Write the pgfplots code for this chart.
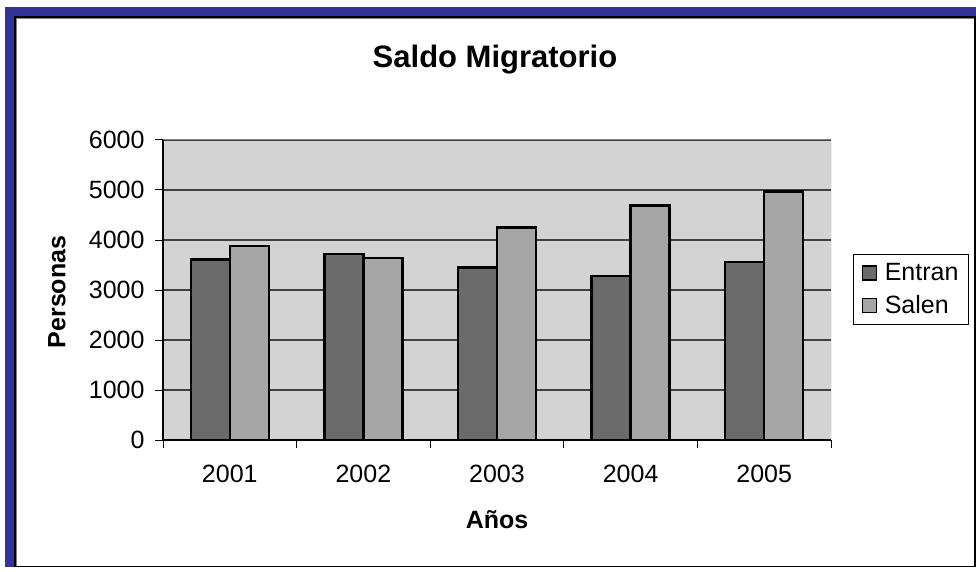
\documentclass[border=0pt]{standalone}
\usepackage{fontspec}
\setmainfont{Liberation Sans}
\usepackage{pgfplots}
\pgfplotsset{compat=1.18}
\definecolor{navyframe}{RGB}{51,51,153}
\definecolor{plotbg}{RGB}{211,211,211}
\definecolor{entran}{RGB}{107,107,107}
\definecolor{salen}{RGB}{166,166,166}
\begin{document}
\begin{tikzpicture}[x=1pt,y=1pt]
\useasboundingbox (0,0) rectangle (976,571);
\fill[navyframe] (5,4) rectangle (976,564);
\fill[white] (15,4) rectangle (975,554);
\draw[black, line width=1.5pt] (15,4.5) rectangle (975,554);
\draw[gray, line width=1pt] (16.5,5) -- (16.5,552.5) -- (974,552.5);
\begin{axis}[
  at={(163pt,131pt)}, anchor=south west,
  scale only axis, width=668pt, height=300pt,
  xmin=-0.5, xmax=4.5, ymin=0, ymax=6000,
  ybar=0pt, bar width=39pt,
  axis background/.style={fill=plotbg},
  axis x line*=bottom, axis y line*=left,
  axis line style={black, line width=1.2pt},
  ytick={0,1000,...,6000},
  ymajorgrids,
  grid style={line width=1.1pt, color=black!75},
  xtick={-0.5,0.5,...,4.5},
  x tick label as interval,
  xticklabels={2001,2002,2003,2004,2005},
  tick align=outside,
  major tick length=8pt,
  tick style={black, line width=1pt},
  /pgf/number format/assume math mode=true,
  /pgf/number format/1000 sep={},
  ticklabel style={font=\fontsize{25}{29}\selectfont},
  yticklabel style={xshift=-7pt},
  xticklabel style={yshift=-14pt},
  legend style={at={(1.033,0.502)}, anchor=west, draw=black, line width=1pt,
    font=\fontsize{25}{29}\selectfont, row sep=9pt, inner xsep=8pt, inner ysep=7pt,
    /tikz/every odd column/.append style={column sep=6pt}},
  legend image code/.code={\draw[#1, line width=1.2pt] (0pt,-7pt) rectangle (14pt,7pt);},
  legend cell align=left,
]
\addplot[fill=entran, draw=black, line width=2.5pt] coordinates {(0,3610) (1,3725) (2,3455) (3,3285) (4,3565)};
\addplot[fill=salen, draw=black, line width=2.5pt] coordinates {(0,3885) (1,3645) (2,4250) (3,4685) (4,4970)};
\legend{Entran,Salen}
\draw[gray, line width=1pt] (rel axis cs:0,1) -- (rel axis cs:1,1) -- (rel axis cs:1,0);
\end{axis}
\node[font=\bfseries\fontsize{31}{36}\selectfont] at (495,511) {Saldo Migratorio};
\node[font=\bfseries\fontsize{25}{29}\selectfont] at (497,51) {Años};
\node[font=\bfseries\fontsize{25}{29}\selectfont, rotate=90] at (57,279) {Personas};
\end{tikzpicture}
\end{document}
